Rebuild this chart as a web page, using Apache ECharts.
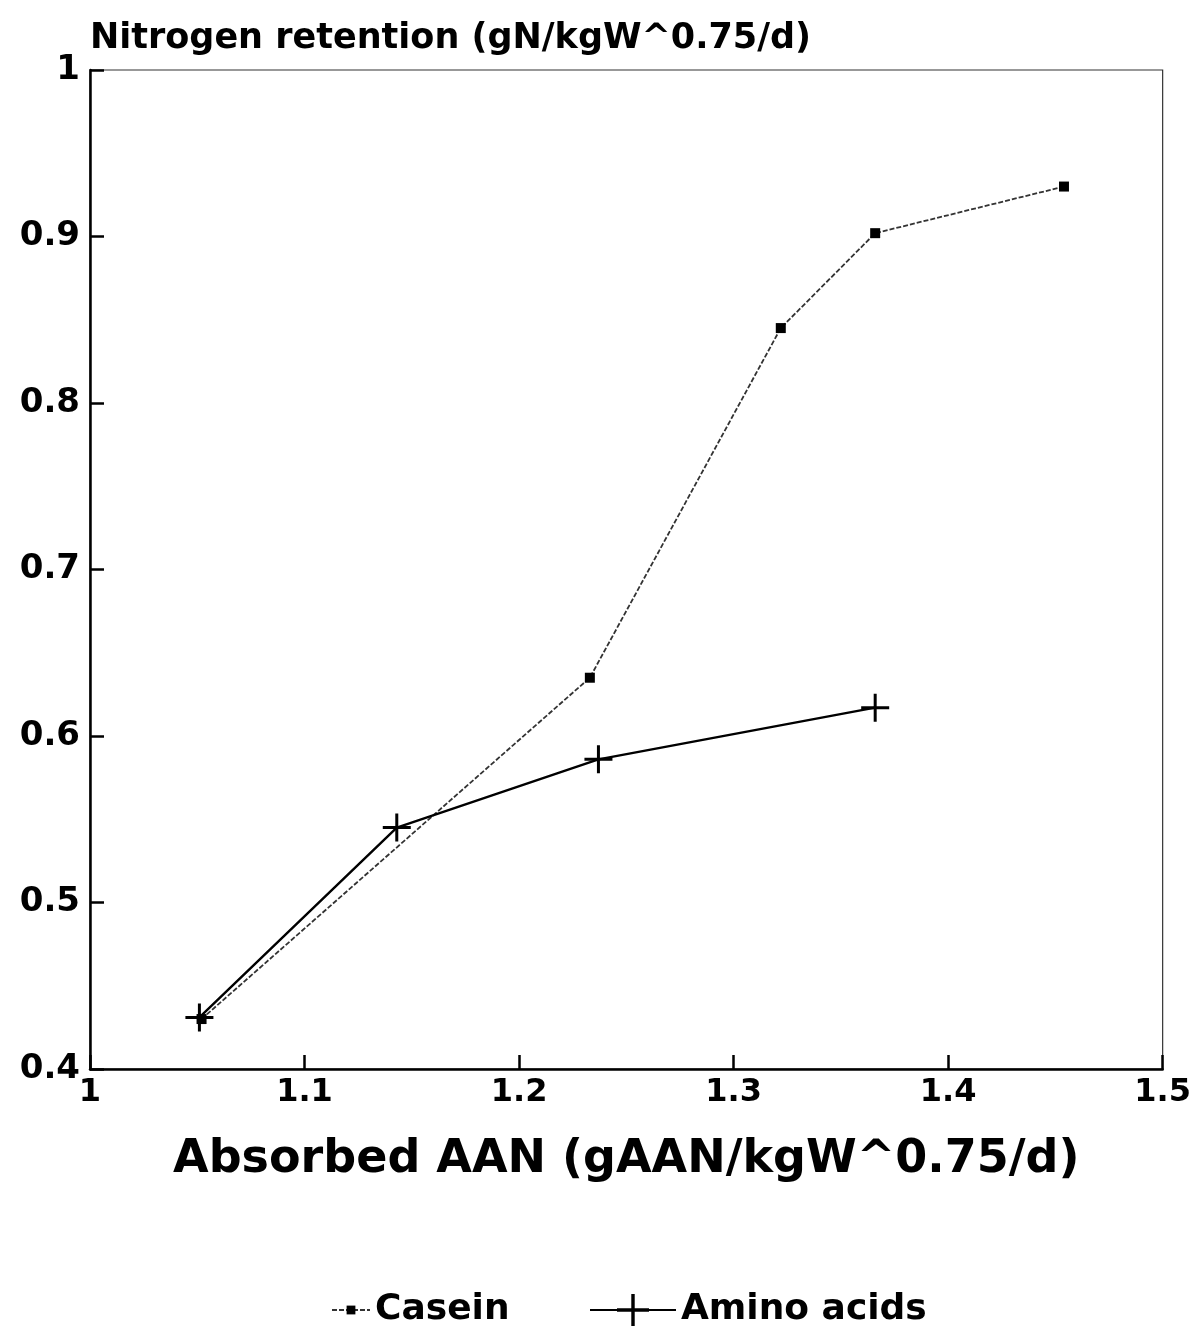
<!DOCTYPE html>
<html><head><meta charset="utf-8">
<script src="https://cdn.jsdelivr.net/npm/echarts@6/dist/echarts.min.js"></script>
<style>html,body{margin:0;padding:0;background:#fff}#c{width:1194px;height:1339px}</style>
</head><body><div id="c"></div>
<script>
const caseinX = [1.052, 1.233, 1.322, 1.366, 1.454];
const caseinY = [0.430, 0.635, 0.845, 0.902, 0.930];
const aminoX = [1.051, 1.143, 1.237, 1.366];
const aminoY = [0.431, 0.545, 0.586, 0.617];
const xTicks = [1, 1.1, 1.2, 1.3, 1.4, 1.5];
const yTicks = [0.4, 0.5, 0.6, 0.7, 0.8, 0.9, 1];

const FONT = '"DejaVu Sans", "Liberation Sans", Arial, sans-serif';
const plus = 'path://M-1.5,-14 L1.5,-14 L1.5,-1.5 L14,-1.5 L14,1.5 L1.5,1.5 L1.5,14 L-1.5,14 L-1.5,1.5 L-14,1.5 L-14,-1.5 L-1.5,-1.5 Z';
const fmt = v => { const t = xTicks.concat(yTicks).find(t => Math.abs(t - v) < 1e-6); return t === undefined ? '' : String(t); };

const chart = echarts.init(document.getElementById('c'), null, {renderer: 'canvas'});
chart.setOption({
  backgroundColor: '#fff',
  animation: false,
  grid: {left: 90, right: 29, top: 70, bottom: 270, show: true, borderColor: '#333', borderWidth: 1.2},
  xAxis: {
    type: 'value', min: 1, max: 1.5, interval: 0.1,
    axisLine: {onZero: false, lineStyle: {color: '#000', width: 2.5}},
    axisTick: {inside: true, length: 14, lineStyle: {color: '#000', width: 2.5}},
    splitLine: {show: false},
    axisLabel: {color: '#000', fontFamily: FONT, fontWeight: 'bold', fontSize: 32, margin: 8, formatter: fmt},
    name: 'Absorbed AAN (gAAN/kgW^0.75/d)', nameLocation: 'middle', nameGap: 68,
    nameTextStyle: {color: '#000', fontFamily: FONT, fontWeight: 'bold', fontSize: 46}
  },
  yAxis: {
    type: 'value', min: 0.4, max: 1, interval: 0.1,
    axisLine: {onZero: false, lineStyle: {color: '#000', width: 2.5}},
    axisTick: {inside: true, length: 14, lineStyle: {color: '#000', width: 2.5}},
    splitLine: {show: false},
    axisLabel: {color: '#000', fontFamily: FONT, fontWeight: 'bold', fontSize: 34, margin: 10, formatter: fmt},
    name: 'Nitrogen retention (gN/kgW^0.75/d)', nameLocation: 'end', nameGap: 14,
    nameTextStyle: {color: '#000', fontFamily: FONT, fontWeight: 'bold', fontSize: 35, align: 'left'}
  },
  legend: [
    {
      top: 1287, left: 326, itemWidth: 38, itemHeight: 11, itemGap: 16,
      textStyle: {color: '#000', fontFamily: FONT, fontWeight: 'bold', fontSize: 36},
      data: ['Casein']
    },
    {
      top: 1287, left: 584, itemWidth: 86, itemHeight: 40, itemGap: 16,
      textStyle: {color: '#000', fontFamily: FONT, fontWeight: 'bold', fontSize: 36},
      data: ['Amino acids']
    }
  ],
  series: [
    {
      name: 'Casein', type: 'line',
      data: caseinX.map((x, i) => [x, caseinY[i]]),
      symbol: 'rect', symbolSize: 10,
      lineStyle: {color: '#333', width: 1.8, type: [5, 2]},
      itemStyle: {color: '#000'}
    },
    {
      name: 'Amino acids', type: 'line',
      data: aminoX.map((x, i) => [x, aminoY[i]]),
      symbol: plus, symbolSize: 28,
      lineStyle: {color: '#000', width: 2.4},
      itemStyle: {color: '#000'}
    }
  ]
});
</script></body></html>
